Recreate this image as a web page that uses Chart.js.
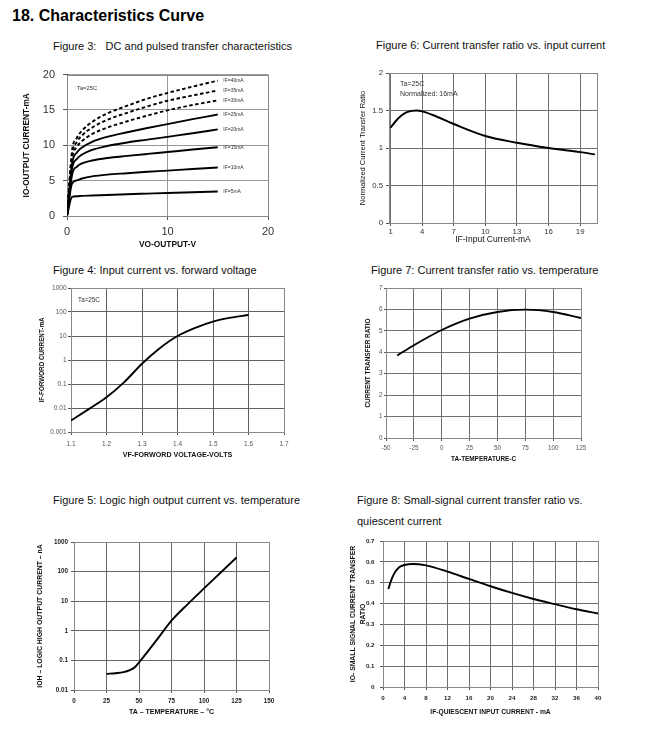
<!DOCTYPE html>
<html>
<head>
<meta charset="utf-8">
<script src="https://cdn.jsdelivr.net/npm/chart.js@4.4.1/dist/chart.umd.min.js"></script>
<style>
body { margin:0; background:#fff; width:659px; height:730px; position:relative; overflow:hidden; font-family:"Liberation Sans", Arial, sans-serif; color:#111; }
.t { position:absolute; white-space:pre; font-size:11px; line-height:11px; }
canvas { position:absolute; }
</style>
</head>
<body>
<div class="t" style="left:12px;top:8px;font-size:16px;line-height:16px;font-weight:bold;color:#000">18. Characteristics Curve</div>
<div class="t" style="left:53px;top:41px">Figure 3:   DC and pulsed transfer characteristics</div>
<div class="t" style="left:376px;top:40px">Figure 6: Current transfer ratio vs. input current</div>
<div class="t" style="left:53px;top:265px">Figure 4: Input current vs. forward voltage</div>
<div class="t" style="left:371px;top:265px">Figure 7: Current transfer ratio vs. temperature</div>
<div class="t" style="left:53px;top:495px">Figure 5: Logic high output current vs. temperature</div>
<div class="t" style="left:357px;top:495px">Figure 8: Small-signal current transfer ratio vs.</div>
<div class="t" style="left:357px;top:516px">quiescent current</div>

<canvas id="fig3"></canvas>
<canvas id="fig6"></canvas>
<canvas id="fig4"></canvas>
<canvas id="fig7"></canvas>
<canvas id="fig5"></canvas>
<canvas id="fig8"></canvas>

<script>
// Figure 3 - output current vs output voltage, one curve per IF
const vo = [0, 0.5, 1, 1.5, 2.5, 4, 6, 8, 10, 12.5, 15];
const io5  = [0, 2.7, 2.8, 2.85, 2.9, 2.98, 3.08, 3.17, 3.26, 3.36, 3.46];
const io10 = [0, 4.6, 5.05, 5.3, 5.6, 5.85, 6.05, 6.25, 6.42, 6.65, 6.85];
const io15 = [0, 5.8, 7.0, 7.45, 7.85, 8.2, 8.5, 8.78, 9.05, 9.4, 9.72];
const io20 = [0, 6.7, 8.1, 8.7, 9.35, 9.9, 10.4, 10.8, 11.2, 11.7, 12.25];
const io25 = [0, 7.4, 9.0, 9.7, 10.5, 11.2, 11.85, 12.45, 13.0, 13.7, 14.35];
const io30 = [0, 8.0, 9.8, 10.6, 11.6, 12.5, 13.4, 14.2, 14.95, 15.7, 16.35];
const io35 = [0, 8.6, 10.5, 11.4, 12.5, 13.6, 14.6, 15.5, 16.3, 17.05, 17.75];
const io40 = [0, 9.2, 11.1, 12.1, 13.3, 14.5, 15.6, 16.6, 17.4, 18.3, 19.15];
const ifNames = ['IF=5mA', 'IF=10mA', 'IF=15mA', 'IF=20mA', 'IF=25mA', 'IF=30mA', 'IF=35mA', 'IF=40mA'];
const fig3XTicks = [0, 10, 20];
const fig3YTicks = [0, 5, 10, 15, 20];

// Figure 6 - normalized CTR vs input current
const ifIn = [1, 1.5, 2, 2.5, 3, 3.5, 4, 5, 7, 10, 13, 16, 19, 20.4];
const ctr6 = [1.27, 1.36, 1.43, 1.475, 1.495, 1.5, 1.488, 1.44, 1.32, 1.16, 1.07, 1.0, 0.945, 0.915];
const fig6XTicks = [1, 4, 7, 10, 13, 16, 19];
const fig6YTicks = [0, 0.5, 1, 1.5, 2];

// Figure 4 - input current vs forward voltage (log)
const vf = [1.1, 1.15, 1.2, 1.25, 1.3, 1.35, 1.4, 1.45, 1.5, 1.55, 1.6];
const ifw = [0.003, 0.009, 0.028, 0.12, 0.7, 3.1, 10, 22, 40, 58, 75];
const fig4XTicks = [1.1, 1.2, 1.3, 1.4, 1.5, 1.6, 1.7];
const fig4YTicks = [0.001, 0.01, 0.1, 1, 10, 100, 1000];

// Figure 7 - CTR vs temperature
const temp7 = [-40, -25, 0, 25, 50, 75, 100, 125];
const ctr7 = [3.85, 4.33, 5.04, 5.57, 5.88, 5.99, 5.88, 5.6];
const fig7XTicks = [-50, -25, 0, 25, 50, 75, 100, 125];
const fig7YTicks = [0, 1, 2, 3, 4, 5, 6, 7];

// Figure 5 - logic high output current vs temperature (log)
const temp5 = [25, 32, 38, 43, 47, 50, 55, 62.5, 75, 87.5, 100, 112.5, 125];
const ioh = [0.035, 0.037, 0.04, 0.047, 0.06, 0.085, 0.16, 0.42, 2.2, 8, 27, 90, 300];
const fig5XTicks = [0, 25, 50, 75, 100, 125, 150];
const fig5YTicks = [0.01, 0.1, 1, 10, 100, 1000];

// Figure 8 - small signal CTR vs quiescent current
const iq = [1, 1.5, 2, 3, 4, 5.5, 8, 12, 16, 20, 24, 28, 32, 36, 40];
const ctr8 = [0.47, 0.51, 0.54, 0.574, 0.585, 0.59, 0.583, 0.553, 0.518, 0.483, 0.451, 0.422, 0.397, 0.373, 0.352];
const fig8XTicks = [0, 4, 8, 12, 16, 20, 24, 28, 32, 36, 40];
const fig8YTicks = [0, 0.1, 0.2, 0.3, 0.4, 0.5, 0.6, 0.7];

Chart.defaults.font.family = "'Liberation Sans', Arial, sans-serif";

function lineSet(xs, ys, dash) {
    return {
        data: xs.map((x, i) => ({x: x, y: ys[i]})),
        borderColor: '#000',
        borderWidth: 1.9,
        borderDash: dash || [],
        pointRadius: 0,
        fill: false,
        cubicInterpolationMode: 'monotone'
    };
}

function axis(o) {
    return {
        type: o.type || 'linear',
        min: o.min,
        max: o.max,
        afterBuildTicks: s => { s.ticks = o.ticks.map(v => ({value: v})); },
        afterFit: s => { if (s.isHorizontal()) s.height = o.size; else s.width = o.size; },
        grid: { color: o.grid || '#707070', lineWidth: 1, tickLength: o.tl, tickColor: '#555' },
        border: { color: '#444', width: 1 },
        ticks: { font: o.font, color: o.color || '#333', padding: o.pad, autoSkip: false, maxRotation: 0,
            callback: v => String(v) },
        title: { display: true, text: o.title, font: o.tfont, color: '#111', padding: {top: 0, bottom: 0} }
    };
}

// grey box round the plot area
const frame = {
    id: 'frame',
    beforeDatasetsDraw(chart) {
        const a = chart.chartArea, ctx = chart.ctx;
        ctx.save();
        ctx.strokeStyle = '#888';
        ctx.lineWidth = 1;
        ctx.strokeRect(Math.round(a.left) + 0.5, Math.round(a.top) + 0.5, Math.round(a.right - a.left), Math.round(a.bottom - a.top));
        ctx.restore();
    }
};

function note(ctx, text, x, y, size) {
    ctx.save();
    ctx.fillStyle = '#333';
    ctx.font = size + "px 'Liberation Sans', Arial, sans-serif";
    ctx.textBaseline = 'alphabetic';
    ctx.fillText(text, x, y);
    ctx.restore();
}

function draw(id, g, xAxis, yAxis, sets, notes) {
    const cv = document.getElementById(id);
    cv.width = g.w; cv.height = g.h;
    cv.style.left = g.x + 'px'; cv.style.top = g.y + 'px';
    return new Chart(cv, {
        type: 'line',
        data: { datasets: sets },
        options: {
            responsive: false,
            animation: false,
            layout: { padding: { left: 0, top: g.pt, right: g.pr, bottom: 0 } },
            plugins: { legend: { display: false }, tooltip: { enabled: false } },
            scales: { x: xAxis, y: yAxis }
        },
        plugins: [frame, { id: 'notes', afterDatasetsDraw: c => { if (notes) notes(c); } }]
    });
}

// Figure 3
const io3 = [io5, io10, io15, io20, io25, io30, io35, io40];
draw('fig3', {x: 22, y: 60, w: 258, h: 190, pt: 11, pr: 12},
    axis({min: 0, max: 20, ticks: fig3XTicks, size: 34, tl: 4, pad: 5, font: {size: 11}, grid: '#999', title: 'VO-OUTPUT-V', tfont: {size: 8.4, weight: 'bold'}}),
    axis({min: 0, max: 20, ticks: fig3YTicks, size: 45, tl: 4, pad: 8, font: {size: 11}, grid: '#999', title: 'IO-OUTPUT CURRENT-mA', tfont: {size: 8.3, weight: 'bold'}}),
    io3.map((ys, i) => lineSet(vo, ys, i >= 5 ? [3.5, 2.5] : null)),
    c => {
        const a = c.chartArea;
        note(c.ctx, 'Ta=25C', a.left + 10, a.top + 15, 5.8);
        const xs = c.scales.x, ys = c.scales.y;
        io3.forEach((s, i) => {
            c.ctx.save();
            c.ctx.textBaseline = 'middle';
            c.ctx.fillStyle = '#333';
            c.ctx.font = "5px 'Liberation Sans', Arial, sans-serif";
            c.ctx.fillText(ifNames[i], xs.getPixelForValue(vo[vo.length - 1] + 0.55), ys.getPixelForValue(s[s.length - 1]));
            c.ctx.restore();
        });
    });

// Figure 6
draw('fig6', {x: 358, y: 60, w: 252, h: 185, pt: 13, pr: 13},
    axis({min: 0.85, max: 20.6, ticks: fig6XTicks, size: 22, tl: 3, pad: 1, font: {size: 7.8}, title: 'IF-Input Current-mA', tfont: {size: 8.5}}),
    axis({min: 0, max: 2, ticks: fig6YTicks, size: 31, tl: 3, pad: 3, font: {size: 7.8}, title: 'Normalized Current Transfer Ratio', tfont: {size: 7.5}}),
    [lineSet(ifIn, ctr6)],
    c => {
        const a = c.chartArea;
        note(c.ctx, 'Ta=25C', a.left + 11, a.top + 13, 7);
        note(c.ctx, 'Normalized: 16mA', a.left + 11, a.top + 22.5, 7);
    });

// Figure 4
draw('fig4', {x: 38, y: 280, w: 262, h: 179, pt: 8, pr: 16},
    axis({min: 1.1, max: 1.7, ticks: fig4XTicks, size: 27, tl: 3, pad: 5.7, font: {size: 6.5}, color: '#555', grid: '#606060', title: 'VF-FORWORD VOLTAGE-VOLTS', tfont: {size: 7.1, weight: 'bold'}}),
    axis({type: 'logarithmic', min: 0.001, max: 1000, ticks: fig4YTicks, size: 33, tl: 3, pad: 1.5, font: {size: 6.5}, color: '#555', grid: '#606060', title: 'IF-FORWORD CURRENT-mA', tfont: {size: 6.3, weight: 'bold'}}),
    [lineSet(vf, ifw)],
    c => { note(c.ctx, 'Ta=25C', c.chartArea.left + 7, c.chartArea.top + 14, 6.3); });

// Figure 7
draw('fig7', {x: 364, y: 280, w: 236, h: 183, pt: 8, pr: 19},
    axis({min: -50, max: 125, ticks: fig7XTicks, size: 25, tl: 3, pad: 3, font: {size: 6.3}, color: '#555', title: 'TA-TEMPERATURE-C', tfont: {size: 6.4, weight: 'bold'}}),
    axis({min: 0, max: 7, ticks: fig7YTicks, size: 22, tl: 2, pad: 1.5, font: {size: 6.3}, color: '#555', title: 'CURRENT TRANSFER RATIO', tfont: {size: 6.4, weight: 'bold'}}),
    [lineSet(temp7, ctr7)]);

// Figure 5
draw('fig5', {x: 36, y: 530, w: 254, h: 186, pt: 12, pr: 21},
    axis({min: 0, max: 150, ticks: fig5XTicks, size: 26, tl: 3, pad: 4, font: {size: 6.3, weight: 'bold'}, color: '#222', grid: '#666', title: 'TA \u2013 TEMPERATURE \u2013 \u00b0C', tfont: {size: 7, weight: 'bold'}}),
    axis({type: 'logarithmic', min: 0.01, max: 1000, ticks: fig5YTicks, size: 38, tl: 3, pad: 3, font: {size: 6.3, weight: 'bold'}, color: '#222', grid: '#666', title: 'IOH \u2013 LOGIC HIGH OUTPUT CURRENT \u2013 nA', tfont: {size: 6.9, weight: 'bold'}}),
    [lineSet(temp5, ioh)]);

// Figure 8
draw('fig8', {x: 348, y: 530, w: 264, h: 186, pt: 11, pr: 14},
    axis({min: 0, max: 40, ticks: fig8XTicks, size: 29, tl: 3, pad: 4.4, font: {size: 6.2, weight: 'bold'}, color: '#222', title: 'IF-QUIESCENT INPUT CURRENT - mA', tfont: {size: 6.7, weight: 'bold'}}),
    axis({min: 0, max: 0.7, ticks: fig8YTicks, size: 35, tl: 3, pad: 5.5, font: {size: 6.2, weight: 'bold'}, color: '#222', title: ['IO- SMALL SIGNAL CURRENT TRANSFER', 'RATIO'], tfont: {size: 6.8, weight: 'bold', lineHeight: 1.45}}),
    [lineSet(iq, ctr8)]);
</script>
</body>
</html>
